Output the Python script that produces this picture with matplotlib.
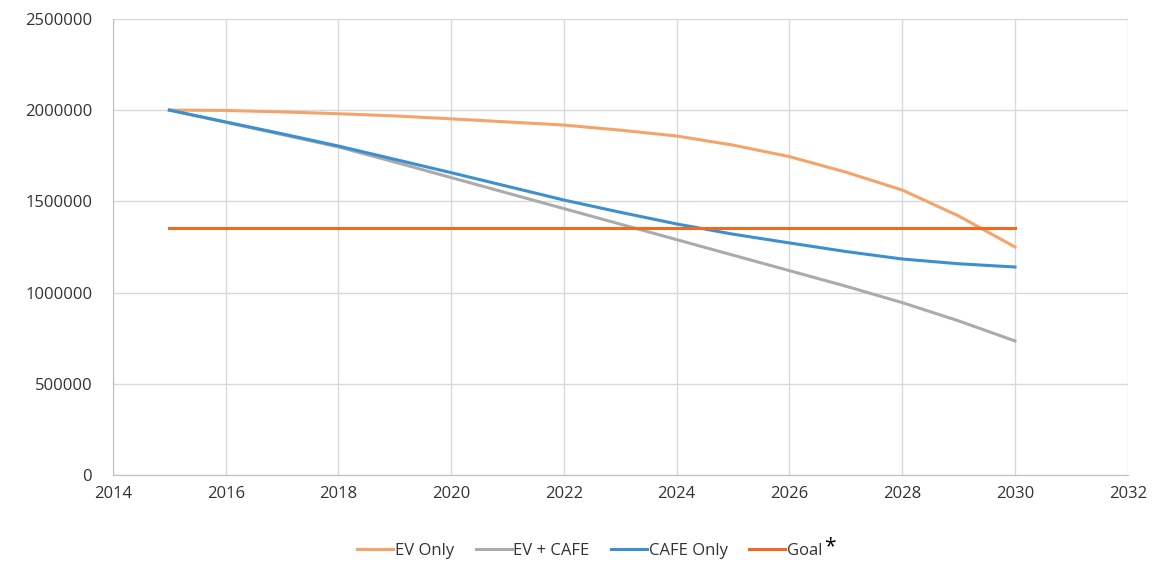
import matplotlib
matplotlib.use('Agg')
import matplotlib.pyplot as plt

plt.rcParams['font.family'] = ['Open Sans', 'DejaVu Sans']

years = list(range(2015, 2031))
ev_only = [2000000, 1998000, 1990000, 1980000, 1968000, 1952000, 1935000, 1918000,
           1890000, 1858000, 1808000, 1745000, 1660000, 1562000, 1420000, 1250000]
ev_cafe = [2000000, 1933000, 1866000, 1798000, 1715000, 1630000, 1545000, 1460000,
           1375000, 1290000, 1205000, 1120000, 1035000, 945000, 845000, 735000]
cafe_only = [2000000, 1935000, 1870000, 1803000, 1730000, 1657000, 1582000, 1507000,
             1440000, 1376000, 1320000, 1272000, 1225000, 1184000, 1158000, 1140000]
goal = [1352000] * len(years)

x_ticks = list(range(2014, 2033, 2))
y_ticks = [0, 500000, 1000000, 1500000, 2000000, 2500000]

fig = plt.figure(figsize=(11.59, 5.71), dpi=100)
ax = fig.add_axes([0.0975, 0.168, 0.8755, 0.799])

ax.plot(years, ev_only, color='#F4A46A', lw=2.2, label='EV Only')
ax.plot(years, ev_cafe, color='#ABABAB', lw=2.2, label='EV + CAFE')
ax.plot(years, cafe_only, color='#3D8FD0', lw=2.2, label='CAFE Only')
ax.plot(years, goal, color='#F26A22', lw=2.2, label='Goal')

ax.set_xlim(2014, 2032)
ax.set_ylim(0, 2500000)
ax.set_xticks(x_ticks)
ax.set_yticks(y_ticks)
ax.set_xticklabels([str(t) for t in x_ticks])
ax.set_yticklabels([str(t) for t in y_ticks])
ax.grid(True, color='#D9D9D9', lw=1)
ax.set_axisbelow(True)
for s in ax.spines.values():
    s.set_visible(False)
ax.spines['left'].set_visible(True)
ax.spines['bottom'].set_visible(True)
ax.spines['left'].set_color('#BFBFBF')
ax.spines['bottom'].set_color('#BFBFBF')
ax.tick_params(axis='y', length=0, labelsize=12, colors='#333333', pad=15)
ax.tick_params(axis='x', length=0, labelsize=12, colors='#333333', pad=8)

leg = fig.legend(loc='center', bbox_to_anchor=(0.509, 0.035), ncol=4, frameon=False,
                 fontsize=12, handlelength=2.15, handletextpad=0.1, columnspacing=1.3,
                 labelcolor='#333333')

# asterisk after "Goal"
fig.canvas.draw()
bb = leg.get_texts()[-1].get_window_extent()
W, H = fig.get_size_inches() * fig.dpi
fig.text((bb.x1 + 2) / W, (bb.y1 - 4) / H, '*', fontsize=15, color='black',
         ha='left', va='center')

fig.savefig('out.png', dpi=100, facecolor='white')
